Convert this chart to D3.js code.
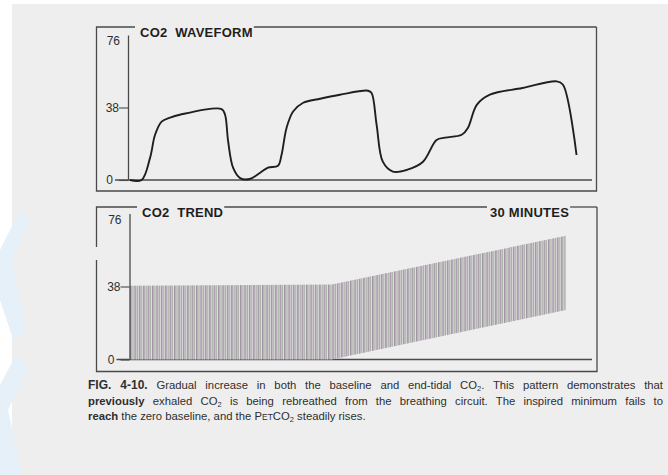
<!DOCTYPE html>
<html>
<head>
<meta charset="utf-8">
<script src="https://cdn.jsdelivr.net/npm/d3@7"></script>
<style>
  body { margin: 0; background: #fff; }
  svg { display: block; font-family: "Liberation Sans", Arial, sans-serif; }
</style>
</head>
<body>
<svg id="chart" width="668" height="475"></svg>
<script>
// waveform: time (s) and CO2 (mmHg)
var waveTime = [0.05, 0.35, 0.57, 0.70, 0.87, 1.09, 1.34, 2.42, 2.51, 2.59, 2.72, 2.90, 3.15, 3.41, 3.62, 3.88,
                3.97, 4.10, 4.27, 4.53, 4.97, 5.48, 6.21, 6.30, 6.43, 6.59, 6.85, 7.21, 7.63, 7.98, 8.20, 8.63,
                8.79, 9.02, 9.36, 10.2, 11.09, 11.25, 11.60];
var waveCO2 = [0, 0, 11.6, 23.7, 30.6, 32.7, 34.2, 37.2, 34.2, 20.2, 6.3, 1.0, 0.5, 3.7, 6.5, 7.5,
               13.1, 27.3, 35.9, 40.5, 42.6, 44.7, 46.8, 45.6, 28.9, 9.6, 4.4, 5.3, 9.6, 21.0, 22.2, 23.7,
               27.3, 39.4, 44.7, 48.2, 51.7, 49.9, 13.1];

// trend: minutes, end-tidal max and inspired min (mmHg)
var trendMinutes = [0, 14, 30.2];
var trendMax = [38.4, 39.1, 64.4];
var trendMin = [0, 0, 25.8];

var yTicks = [0, 38, 76];

var captionLines = [
  [["FIG. 4-10.", "b"], [" Gradual increase in both the baseline and end-tidal CO"], ["2", "sub"], [". This pattern demonstrates that"]],
  [["previously", "b"], [" exhaled CO"], ["2", "sub"], [" is being rebreathed from the breathing circuit. The inspired minimum fails to"]],
  [["reach", "b"], [" the zero baseline, and the P"], ["ET", "sc"], ["CO"], ["2", "sub"], [" steadily rises."]]
];

var svg = d3.select("#chart");
var ink = "#2e2e2e", frame = "#4a4a4a";

// page
svg.append("rect").attr("width", 668).attr("height", 475).attr("fill", "#fff");
svg.append("rect").attr("x", 12).attr("y", 4).attr("width", 656).attr("height", 471).attr("fill", "#eeeeee");
svg.append("path")
  .attr("d", "M0,250 L20,210 L30,218 L12,262 L26,330 L14,342 L0,300 Z M0,385 L16,355 L28,366 L8,410 L22,475 L0,475 Z")
  .attr("fill", "#e6f0f8");

var defs = svg.append("defs");
var pat = defs.append("pattern").attr("id", "stripes")
  .attr("patternUnits", "userSpaceOnUse").attr("x", 130).attr("width", 4.4).attr("height", 10);
pat.append("rect").attr("width", 4.4).attr("height", 10).attr("fill", "#f0edf1");
pat.append("rect").attr("x", 0).attr("width", 1.5).attr("height", 10).attr("fill", "#9f92a3");
pat.append("rect").attr("x", 2.2).attr("width", 1.5).attr("height", 10).attr("fill", "#a8b0a4");

function panel(cfg) {
  var g = svg.append("g");
  var y = d3.scaleLinear().domain([0, 76]).range([cfg.y0, cfg.y76]);

  // titles sit on the top border
  var titles = cfg.titles.map(function (t) {
    var txt = g.append("text")
      .attr("x", t.x).attr("y", cfg.top + 10)
      .attr("font-size", 13).attr("font-weight", "bold")
      .attr("letter-spacing", 0.25)
      .attr("fill", "#1e1e1e")
      .style("white-space", "pre")
      .text(t.text);
    return txt.node().getBBox();
  });

  var left = cfg.gap
    ? " V" + cfg.gap[0] + " M" + cfg.left + "," + cfg.gap[1] + " V" + cfg.bottom
    : " V" + cfg.bottom;
  g.append("path")
    .attr("d", "M" + (titles[0].x - 5) + "," + cfg.top + " H" + cfg.left + left + " H" + cfg.right + " V" + cfg.top)
    .attr("fill", "none").attr("stroke", frame).attr("stroke-width", 1.3);
  var edges = titles.map(function (b, j) {
    return [b.x + b.width + 1, j + 1 < titles.length ? titles[j + 1].x - 3 : cfg.right];
  });
  g.selectAll(".edge").data(edges).enter().append("line")
    .attr("x1", function (e) { return e[0]; }).attr("x2", function (e) { return e[1]; })
    .attr("y1", cfg.top).attr("y2", cfg.top)
    .attr("stroke", frame).attr("stroke-width", 1.3);

  // baseline
  g.append("line")
    .attr("x1", cfg.axisX - 13).attr("x2", cfg.baseEnd)
    .attr("y1", y(0)).attr("y2", y(0))
    .attr("stroke", frame).attr("stroke-width", 1.3);

  // y axis
  var ax = g.append("g")
    .attr("transform", "translate(" + cfg.axisX + ",0)")
    .call(d3.axisLeft(y).tickValues(yTicks).tickSize(9).tickSizeOuter(0).tickPadding(2));
  ax.select(".domain").attr("stroke", frame).attr("stroke-width", 1.3);
  ax.selectAll(".tick line").attr("stroke", frame).attr("stroke-width", 1.1)
    .attr("display", function (v) { return v === 76 ? "none" : null; });
  ax.selectAll(".tick text")
    .attr("font-family", "Liberation Sans, Arial, sans-serif")
    .attr("font-size", 12).attr("fill", "#2e2e2e")
    .attr("x", function (v) { return v === 0 ? -15 : (v === 76 ? -8 : -9); })
    .attr("dy", function (v) { return v === 76 ? "0.8em" : "0.32em"; });

  return { g: g, y: y };
}

// top panel: waveform
var p1 = panel({
  left: 96.5, right: 596.5, top: 27, bottom: 191,
  y0: 180, y76: 35, axisX: 128, baseEnd: 592,
  titles: [{ text: "CO2  WAVEFORM", x: 140 }]
});
var xWave = d3.scaleLinear().domain([0, 12]).range([128, 592]);
var wave = waveTime.map(function (t, i) { return { t: t, v: waveCO2[i] }; });
p1.g.append("path")
  .datum(wave)
  .attr("d", d3.line()
    .x(function (d) { return xWave(d.t); })
    .y(function (d) { return p1.y(d.v); })
    .curve(d3.curveCatmullRom.alpha(0.5)))
  .attr("fill", "none").attr("stroke", "#1f1f1f").attr("stroke-width", 1.9)
  .attr("stroke-linejoin", "round");

// bottom panel: trend
var p2 = panel({
  left: 96.5, right: 597, top: 207, bottom: 371.5,
  y0: 359.5, y76: 213.5, axisX: 129.5, baseEnd: 592,
  gap: [247, 260],
  titles: [{ text: "CO2  TREND", x: 142 }, { text: "30 MINUTES", x: 490 }]
});
var xTrend = d3.scaleLinear().domain([0, 32]).range([129.5, 592]);
var trend = trendMinutes.map(function (t, i) { return { t: t, max: trendMax[i], min: trendMin[i] }; });
p2.g.insert("path", "g")
  .datum(trend)
  .attr("d", d3.area()
    .x(function (d) { return xTrend(d.t); })
    .y0(function (d) { return p2.y(d.min); })
    .y1(function (d) { return p2.y(d.max); }))
  .attr("fill", "url(#stripes)");

// caption, lines 1-2 justified
var cap = svg.append("g").attr("font-size", 11.3).attr("fill", ink);
captionLines.forEach(function (parts, i) {
  var text = cap.append("text").attr("x", 88).attr("y", 389 + i * 15.5).style("white-space", "pre");
  var shifted = false;
  parts.forEach(function (p) {
    var ts = text.append("tspan").text(p[0]);
    if (p[1] === "b") ts.attr("font-weight", "bold").attr("font-size", i === 0 ? 12 : 11.3);
    if (p[1] === "sc") ts.attr("font-size", 8.5);
    if (p[1] === "sub") { ts.attr("font-size", 7.5).attr("dy", 2); shifted = true; }
    else if (shifted) { ts.attr("dy", -2); shifted = false; }
  });
  if (i < 2) {
    var natural = text.node().getComputedTextLength();
    var spaces = parts.map(function (p) { return p[0]; }).join("").split(" ").length - 1;
    text.attr("word-spacing", Math.max(0, (575 - natural) / spaces));
  }
});
</script>
</body>
</html>
